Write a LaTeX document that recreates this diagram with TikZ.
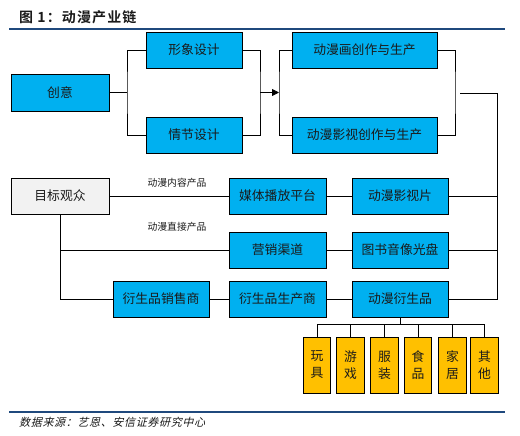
\documentclass[tikz,border=0pt]{standalone}
\usepackage{fontspec}
\setmainfont{Noto Sans CJK SC}
\newfontfamily\cjkbold{Noto Sans CJK SC Bold}[LetterSpace=8]
\newfontfamily\cjkit{Noto Sans CJK SC}[FakeSlant=0.25,LetterSpace=6]
\usetikzlibrary{arrows.meta}
\definecolor{boxblue}{HTML}{00B0F0}
\definecolor{boxgray}{HTML}{F2F2F2}
\definecolor{boxorange}{HTML}{FFC000}
\definecolor{rulenavy}{HTML}{1F497D}
\definecolor{txt}{HTML}{1A1A1A}
\begin{document}
\begin{tikzpicture}[x=1pt,y=-1pt,
  bluebox/.style={draw=black,line width=0.8pt,fill=boxblue,inner sep=0pt,
    minimum height=36pt,text=txt,font=\fontsize{12.8}{14}\selectfont},
  graybox/.style={bluebox,fill=boxgray},
  smallbox/.style={draw=black,line width=0.8pt,fill=boxorange,inner sep=0pt,
    minimum width=27.5pt,minimum height=56pt,align=center,text=txt,
    font=\fontsize{12.8}{17}\selectfont},
  conn/.style={draw=black,line width=0.8pt},
  lbl/.style={font=\fontsize{9.8}{10}\selectfont,text=txt,inner sep=0pt}]
\useasboundingbox (0,0) rectangle (520,436);
% title and rules
\node[anchor=west,inner sep=0pt,font=\cjkbold\fontsize{14}{16}\selectfont,text=txt] (title) at (19,17) {图 1：动漫产业链};
\draw[rulenavy,line width=2.4pt] (9,29) -- (505,29);
\draw[rulenavy,line width=2pt] (9,412) -- (505,412);
\node[anchor=west,inner sep=0pt,font=\cjkit\fontsize{11}{12}\selectfont,text=txt] (src) at (19,422) {数据来源：艺恩、安信证券研究中心};
% top part
\node[bluebox,minimum width=98pt,minimum height=37pt] (cy) at (60,92.5) {创意};
\node[bluebox,minimum width=96pt] (xx) at (194,50) {形象设计};
\node[bluebox,minimum width=96pt] (qj) at (194,135) {情节设计};
\node[bluebox,minimum width=145pt] (dh) at (364.5,50) {动漫画创作与生产};
\node[bluebox,minimum width=145pt] (ds) at (364.5,135) {动漫影视创作与生产};
\coordinate (b1) at (127,92.5);
\coordinate (b2) at (260,92.5);
\coordinate (b3) at (279,92.5);
\coordinate (b4) at (455,92.5);
\draw[conn] (cy.east) -- (b1);
\draw[conn] (xx.west) -| (b1) |- (qj.west);
\draw[conn] (xx.east) -| (b2) |- (qj.east);
\draw[conn,-{Triangle[length=7pt,width=7pt]}] (b2) -- (b3);
\draw[conn] (dh.west) -| (b3) |- (ds.west);
\draw[conn] (dh.east) -| (b4) |- (ds.east);
% middle part
\node[graybox,minimum width=98pt] (mb) at (60,196) {目标观众};
\node[bluebox,minimum width=97pt] (mt) at (277.5,196) {媒体播放平台};
\node[bluebox,minimum width=97pt] (yx) at (277.5,250) {营销渠道};
\node[bluebox,minimum width=97pt] (sc) at (277.5,299) {衍生品生产商};
\node[bluebox,minimum width=96pt] (xs) at (161,299) {衍生品销售商};
\node[bluebox,minimum width=96pt] (yp) at (400,196) {动漫影视片};
\node[bluebox,minimum width=96pt] (ts) at (400,250) {图书音像光盘};
\node[bluebox,minimum width=96pt] (ys) at (400,299) {动漫衍生品};
\node[lbl] (l1) at (177,183) {动漫内容产品};
\node[lbl] (l2) at (177,227) {动漫直接产品};
\draw[conn] (mb.east) -- (mt.west);
\draw[conn] (mb.south) |- (xs.west);
\draw[conn] (mb.south |- yx.west) -- (yx.west);
\draw[conn] (xs.east) -- (sc.west);
\draw[conn] (mt.east) -- (yp.west);
\draw[conn] (yx.east) -- (ts.west);
\draw[conn] (sc.east) -- (ys.west);
\coordinate (r0) at (460,93.5);
\coordinate (r1) at (497,93.5);
\draw[conn] (r0) -- (r1) |- (ys.east);
\draw[conn] (yp.east) -- (yp.east -| r1);
\draw[conn] (ts.east) -- (ts.east -| r1);
% bottom part
\node[smallbox] (s1) at (317,365) {玩\\具};
\node[smallbox] (s2) at (350.5,365) {游\\戏};
\node[smallbox] (s3) at (384.5,365) {服\\装};
\node[smallbox] (s4) at (418,365) {食\\品};
\node[smallbox] (s5) at (452.5,365) {家\\居};
\node[smallbox] (s6) at (484.5,365) {其\\他};
\coordinate (h) at (400,324);
\draw[conn] (ys.south) -- (h);
\foreach \s in {s1,s2,s3,s4,s5,s6} {\draw[conn] (\s.north) |- (h);}
\end{tikzpicture}
\end{document}
